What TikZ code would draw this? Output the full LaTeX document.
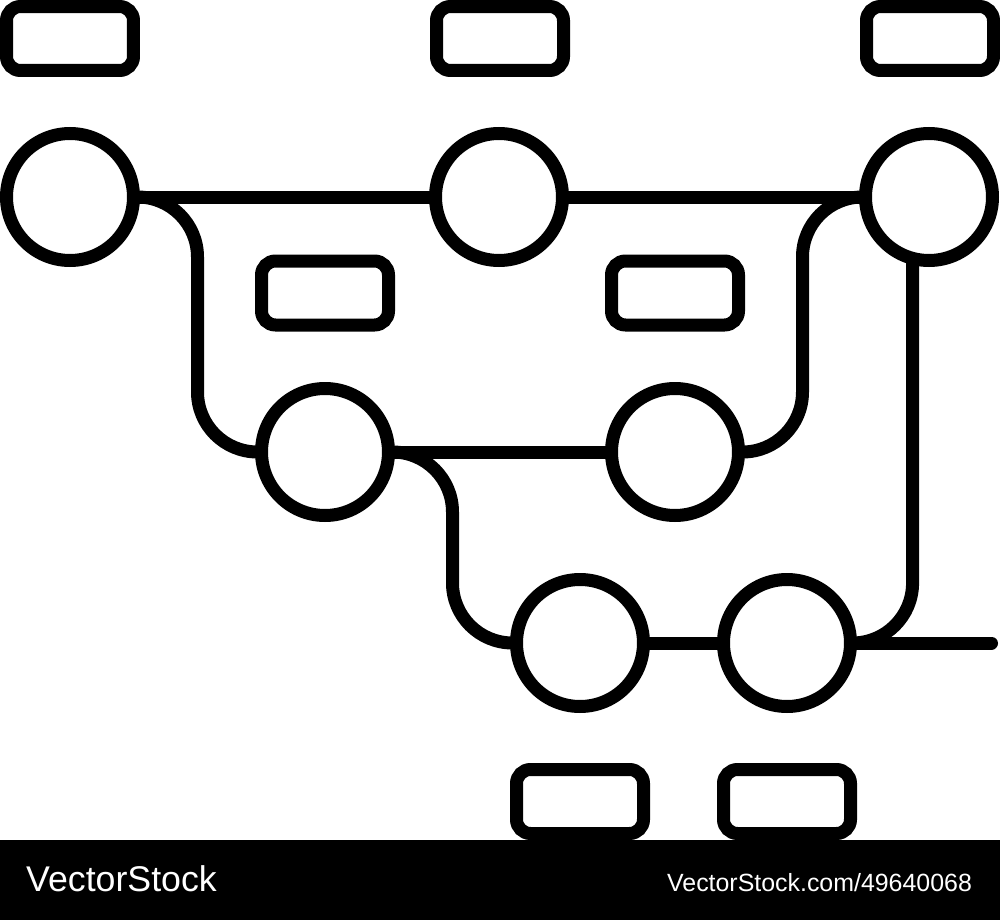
\documentclass[tikz,border=0pt]{standalone}
\usepackage{fontspec}
\setmainfont{Liberation Sans}
\usepackage{tikz}

\begin{document}
\begin{tikzpicture}[x=0.1mm, y=-0.1mm,
  commit/.style={circle, draw, line width=1.3mm, minimum size=12.7mm, inner sep=0, outer sep=0},
  tag/.style={rectangle, draw, line width=1.3mm, rounded corners=1.4mm, minimum width=12.7mm, minimum height=6.4mm, inner sep=0, outer sep=0},
  branch/.style={line width=1.3mm, rounded corners=6mm}]

\useasboundingbox (0,0) rectangle (1000,920);

% Draw the tags
\node[tag] (t1) at (70,38.5) {};
\node[tag] (t2) at (500,38.5) {};
\node[tag] (t3) at (930,38.5) {};
\node[tag] (m1) at (325,293) {};
\node[tag] (m2) at (675,293) {};
\node[tag] (b1) at (580,801.5) {};
\node[tag] (b2) at (787,801.5) {};

% Draw the commits
\node[commit] (c1) at (70,197) {};
\node[commit] (c2) at (499,197) {};
\node[commit] (c3) at (929,197) {};
\node[commit] (c4) at (325,452) {};
\node[commit] (c5) at (675,452) {};
\node[commit] (c6) at (580,643) {};
\node[commit] (c7) at (787,643) {};
\coordinate (tail) at (991.5,643);

% Draw the branches
\draw[branch] (c1.east) -- (c2.west);
\draw[branch] (c2.east) -- (c3.west);
\draw[branch] (c1.east) -| ([xshift=-6.4mm]c4.west) -- (c4.west);
\draw[branch] (c4.east) -- (c5.west);
\draw[branch] (c5.east) -| ([xshift=-6.3mm]c3.west) -- (c3.west);
\draw[branch] (c4.east) -| ([xshift=-6.4mm]c6.west) -- (c6.west);
\draw[branch] (c6.east) -- (c7.west);
\draw[branch] (c3.255) |- (c7.east);
\draw[branch, line cap=round] (c7.east) -- (tail);

% Draw the footer
\fill (0,840) rectangle (1000,920);
\node[anchor=base west, inner sep=0, text=white, font=\fontsize{10.16pt}{12pt}\selectfont] (brand) at (25.5,891.7) {VectorStock};
\node[anchor=base east, inner sep=0, text=white, font=\fontsize{7.09pt}{9pt}\selectfont] (link) at (972.6,891) {VectorStock.com/49640068};

\end{tikzpicture}
\end{document}
